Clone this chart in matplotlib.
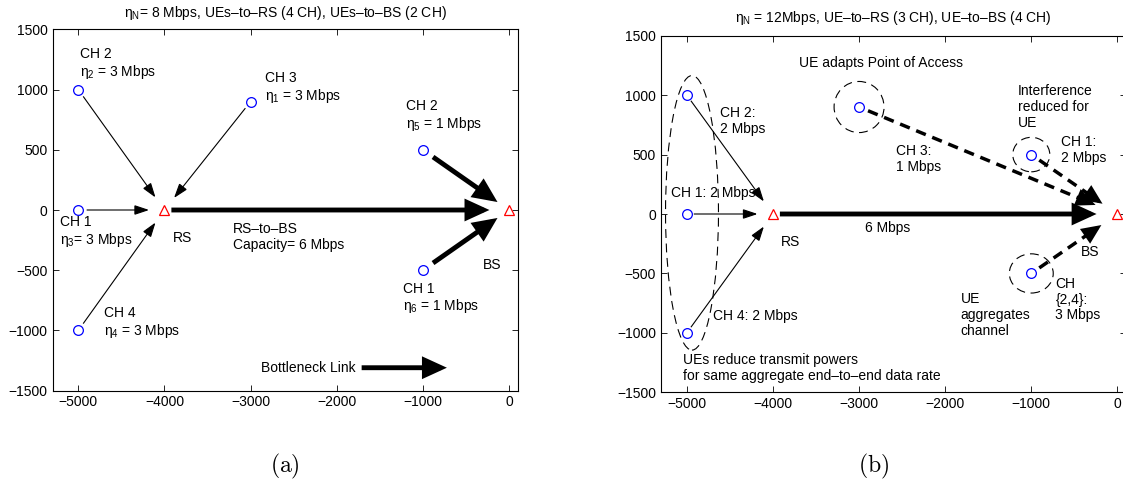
import matplotlib
matplotlib.use('Agg')
import numpy as np
import matplotlib.pyplot as plt
from matplotlib.patches import Ellipse

plt.rcParams['font.family'] = ['Liberation Sans', 'DejaVu Sans']
plt.rcParams['font.size'] = 10
plt.rcParams['mathtext.fontset'] = 'custom'
plt.rcParams['mathtext.rm'] = 'Liberation Sans'
plt.rcParams['mathtext.it'] = 'Liberation Sans'

# node positions (m)
rs_x, rs_y = -4000, 0
bs_x, bs_y = 0, 0

# scenario (a): UEs with their links
ue_x_a = [-5000, -3000, -5000, -5000, -1000, -1000]
ue_y_a = [1000, 900, 0, -1000, 500, -500]
dest_a = ['RS', 'RS', 'RS', 'RS', 'BS', 'BS']

# scenario (b)
ue_x_b = [-5000, -5000, -5000, -3000, -1000, -1000]
ue_y_b = [1000, 0, -1000, 900, 500, -500]
dest_b = ['RS', 'RS', 'RS', 'BS', 'BS', 'BS']

# bottleneck marker arrow (a)
bneck_x = [-1710, -720]
bneck_y = [-1310, -1310]

# dashed rings in (b): centre x, centre y, width, height
ring_x = [-3000, -1000, -1000, -4940]
ring_y = [900, 500, -500, 10]
ring_w = [580, 430, 510, 615]
ring_h = [430, 290, 330, 2310]

xticks = [-5000, -4000, -3000, -2000, -1000, 0]
yticks = [-1500, -1000, -500, 0, 500, 1000, 1500]


def arrow(ax, p0, p1, lw, sa, sb, hl, hw):
    style = '-|>,head_length=%g,head_width=%g' % (hl, hw)
    ax.annotate('', xy=p1, xytext=p0,
                arrowprops=dict(arrowstyle=style, lw=lw, color='k', fc='k',
                                shrinkA=sa, shrinkB=sb,
                                joinstyle='miter', capstyle='butt'))


def dashed_arrow(ax, p0, p1, lw, sa, sb, hl, hw):
    # dashed shaft, solid head
    t = ax.transData
    a = t.transform(p0)
    b = t.transform(p1)
    u = (b - a) / np.hypot(*(b - a))
    px = fig.dpi / 72.0
    tip = b - u * sb * px
    base = tip - u * (hl * 10 + 2) * px
    start = a + u * sa * px
    inv = t.inverted()
    s_d, base_d, tip_d = inv.transform(start), inv.transform(base), inv.transform(tip)
    ax.plot([s_d[0], base_d[0] + (tip_d[0] - base_d[0]) * 0.3],
            [s_d[1], base_d[1] + (tip_d[1] - base_d[1]) * 0.3],
            color='k', lw=lw, ls=(0, (3, 2)), solid_capstyle='butt', dash_capstyle='butt')
    arrow(ax, base_d, tip_d, lw, 0, 0, hl, hw)


def setup(ax, title, pad):
    ax.set_xlim(-5300, 100)
    ax.set_ylim(-1500, 1500)
    ax.set_xticks(xticks)
    ax.set_yticks(yticks)
    ax.tick_params(direction='in', top=True, right=True, length=4, width=0.6, labelsize=10)
    for s in ax.spines.values():
        s.set_linewidth(0.8)
    ax.set_title(title, fontsize=10, pad=pad)


def nodes(ax, ux, uy):
    ax.plot(ux, uy, 'o', mfc='none', mec='b', ms=7, mew=0.9, ls='none')
    ax.plot([rs_x, bs_x], [rs_y, bs_y], '^', mfc='none', mec='r', ms=7, mew=0.9, ls='none')


fig = plt.figure(figsize=(11.23, 4.9), dpi=100)

# ---- (a) ----
ax1 = fig.add_axes([52.5 / 1123, (490 - 390.6) / 490, 465 / 1123, 361.2 / 490])
setup(ax1, r'$\eta_N$= 8 Mbps, UEs–to–RS (4 CH), UEs–to–BS (2 CH)', 9)
for x, y, d in zip(ue_x_a, ue_y_a, dest_a):
    if d == 'RS':
        arrow(ax1, (x, y), (rs_x, rs_y), 0.8, 6, 11, 0.9, 0.3)
    else:
        arrow(ax1, (x, y), (bs_x, bs_y), 3.5, 9, 10, 1.2, 0.55)
arrow(ax1, (rs_x, rs_y), (bs_x, bs_y), 3.5, 5, 14, 1.2, 0.55)
arrow(ax1, (bneck_x[0], bneck_y[0]), (bneck_x[1], bneck_y[1]), 3.5, 0, 0, 1.2, 0.55)
nodes(ax1, ue_x_a, ue_y_a)

ax1.text(-4980, 1212, 'CH 2\n' + r'$\eta_2$ = 3 Mbps', va='center', linespacing=1.15)
ax1.text(-2835, 1012, 'CH 3\n' + r'$\eta_1$ = 3 Mbps', va='center', linespacing=1.15)
ax1.text(-1195, 782, 'CH 2\n' + r'$\eta_5$ = 1 Mbps', va='center', linespacing=1.15)
ax1.text(-5215, -185, 'CH 1\n' + r'$\eta_3$= 3 Mbps', va='center', linespacing=1.15)
ax1.text(-3900, -235, 'RS', va='center')
ax1.text(-3200, -222, 'RS–to–BS\nCapacity= 6 Mbps', va='center', linespacing=1.15)
ax1.text(-300, -455, 'BS', va='center')
ax1.text(-1230, -735, 'CH 1\n' + r'$\eta_6$ = 1 Mbps', va='center', linespacing=1.15)
ax1.text(-4700, -942, 'CH 4\n' + r'$\eta_4$ = 3 Mbps', va='center', linespacing=1.15)
ax1.text(-2880, -1315, 'Bottleneck Link', va='center')

# ---- (b) ----
ax2 = fig.add_axes([661 / 1123, (490 - 392.3) / 490, 465 / 1123, 356.6 / 490])
setup(ax2, r'$\eta_N$ = 12Mbps, UE–to–RS (3 CH), UE–to–BS (4 CH)', 10)
for x, y, w, h in zip(ring_x, ring_y, ring_w, ring_h):
    ax2.add_patch(Ellipse((x, y), w, h, fill=False, ec='k', lw=0.8, ls=(0, (8, 5))))
bs_shrink = [17, 13, 14]
k = 0
for x, y, d in zip(ue_x_b, ue_y_b, dest_b):
    if d == 'RS':
        arrow(ax2, (x, y), (rs_x, rs_y), 0.8, 5, 11, 0.9, 0.3)
    else:
        dashed_arrow(ax2, (x, y), (bs_x, bs_y), 2.5, 7, bs_shrink[k], 1.0, 0.45)
        k += 1
arrow(ax2, (rs_x, rs_y), (bs_x, bs_y), 3.5, 5, 15, 1.2, 0.55)
nodes(ax2, ue_x_b, ue_y_b)

ax2.text(-3700, 1272, 'UE adapts Point of Access', va='center')
ax2.text(-1160, 900, 'Interference\nreduced for\nUE', va='center', linespacing=1.15)
ax2.text(-660, 540, 'CH 1:\n2 Mbps', va='center', linespacing=1.15)
ax2.text(-4615, 782, 'CH 2:\n2 Mbps', va='center', linespacing=1.15)
ax2.text(-2570, 462, 'CH 3:\n1 Mbps', va='center', linespacing=1.15)
ax2.text(-5185, 180, 'CH 1: 2 Mbps', va='center')
ax2.text(-2930, -120, '6 Mbps', va='center')
ax2.text(-3910, -235, 'RS', va='center')
ax2.text(-420, -320, 'BS', va='center')
ax2.text(-720, -720, 'CH\n{2,4}:\n3 Mbps', va='center', linespacing=1.15)
ax2.text(-1820, -850, 'UE\naggregates\nchannel', va='center', linespacing=1.15)
ax2.text(-4700, -860, 'CH 4: 2 Mbps', va='center')
ax2.text(-5045, -1295, 'UEs reduce transmit powers\nfor same aggregate end–to–end data rate',
         va='center', linespacing=1.15)

fig.text(285 / 1123, 1 - 466 / 490, r'$\mathrm{(a)}$', ha='center', va='center',
         fontsize=17, math_fontfamily='cm')
fig.text(874 / 1123, 1 - 466 / 490, r'$\mathrm{(b)}$', ha='center', va='center',
         fontsize=17, math_fontfamily='cm')

fig.savefig('out.png', dpi=100)
